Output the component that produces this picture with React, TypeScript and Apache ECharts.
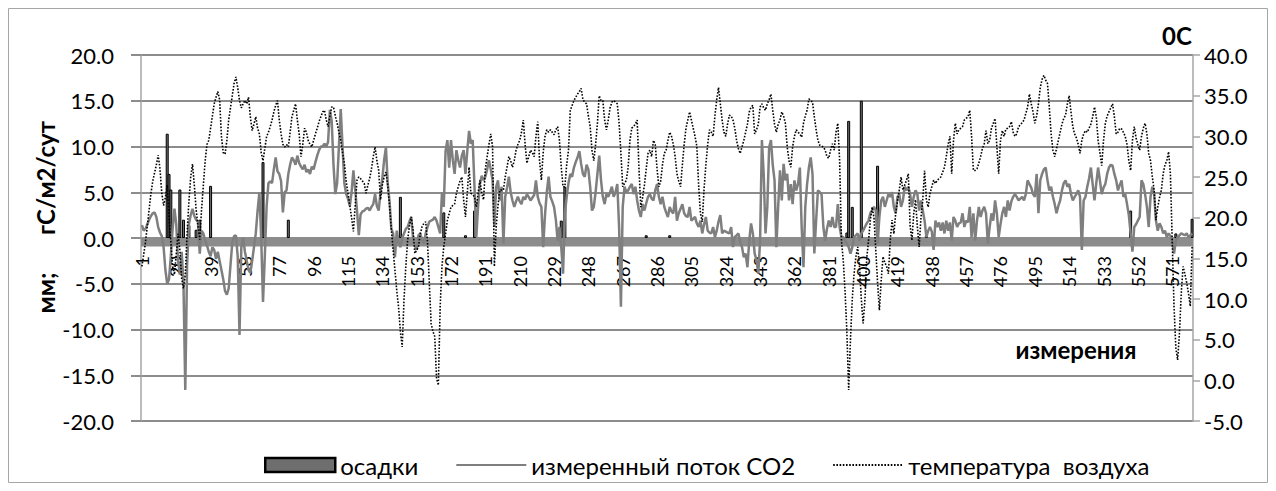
import React, { useEffect, useRef } from 'react';
import * as echarts from 'echarts';

// ---------- data ----------
const N = 582;
const categories: string[] = [];
for (let i = 1; i <= N; i++) categories.push(String(i));

// precipitation events: category number (1-based) and mm
const rainDay = [15, 16, 17, 22, 24, 27, 31, 33, 39, 68, 82, 144, 168, 180, 185, 233, 235, 280, 293, 391, 392, 394, 399, 408, 435, 548, 573, 582];
const rainMm = [11.4, 7.0, 5.3, 5.3, 2.0, 1.4, 0.9, 2.0, 5.7, 8.3, 2.0, 4.5, 2.8, 0.3, 3.0, 1.9, 5.6, 0.3, 0.3, 0.6, 12.8, 3.4, 15.0, 7.9, 0.3, 3.0, 0.5, 2.1];

// measured CO2 flux, gC/m2/day
const co2Flux = [
  1.4, 0.8, 1.0, 1.5, 2.0, 2.4, 2.7, 2.8, 2.3, 1.2,
  0.6, 0.2, -1.0, -3.5, -5.0, -4.5, -2.0, 1.0, 3.2, 1.5,
  -2.5, -4.0, -1.5, -5.0, -16.6, -3.0, 1.5, 2.5, 3.2, 2.4,
  2.0, 1.8, -1.7, 0.8, 0.5, -0.3, -0.8, -1.5, -2.0, -1.0,
  -1.3, -2.3, -1.5, -2.5, -3.5, -4.5, -5.8, -6.2, -5.5, -3.0,
  -0.5, 0.2, 0.3, -2.0, -10.6, -1.0, 0.0, -1.5, -2.5, -3.5,
  -3.8, -2.5, -1.0, 0.5, 3.0, 5.0, 0.0, -7.0, -2.0, 3.5,
  6.0, 6.2, 6.0, 7.5, 8.8, 7.3, 7.0, 6.2, 2.8, 5.0,
  5.2, 7.0, 8.0, 8.8, 8.5, 8.0, 9.0, 8.2, 7.8, 7.5,
  8.0, 7.2, 7.5, 7.0, 7.8, 7.5, 8.3, 9.0, 9.6, 10.0,
  10.0, 10.3, 10.0, 10.5, 14.0, 12.8, 8.0, 4.8, 6.0, 10.0,
  14.1, 10.0, 6.0, 4.8, 4.3, 3.5, 5.0, 7.4, 5.3, 3.0,
  0.3, 2.6, 2.9, 3.0, 3.2, 3.3, 3.0, 3.4, 3.7, 4.8,
  3.5, 3.0, 5.0, 6.5, 8.5, 9.9, 6.0, 4.0, 1.0, 0.5,
  -2.1, 0.8, -0.5, -1.0, 0.0, 0.5, 1.0, 1.2, 1.8, 2.3,
  0.0, -0.8, -1.3, 0.3, 0.5, -0.2, -0.6, 0.5, 1.2, 1.8,
  1.9, 2.0, 2.3, 1.9, 1.2, 0.5, 5.0, 3.4, 9.5, 10.7,
  7.7, 10.7, 8.5, 7.0, 9.6, 8.5, 7.7, 9.0, 9.6, 7.0,
  9.5, 11.7, 10.3, 10.7, 5.6, 0.1, 3.5, 5.9, 6.8, 6.3,
  6.7, 7.5, 8.5, 7.5, 6.3, 1.2, 5.6, 6.3, 4.1, 5.6,
  -0.6, 4.5, 5.5, 6.7, 5.0, 4.1, 3.4, 4.0, 4.5, 4.0,
  3.7, 4.5, 4.2, 4.8, 4.5, 4.1, 4.4, 4.7, 6.3, 4.5,
  3.8, 3.4, -1.0, 2.5, 5.0, 6.7, 4.5, 4.0, 3.4, 2.0,
  -0.3, 1.2, -1.0, -3.9, 2.7, 4.5, 6.0, 7.0, 6.7, 7.7,
  8.3, 8.8, 9.5, 8.1, 7.0, 6.7, 8.0, 7.5, 5.6, 3.0,
  3.4, 5.0, 7.0, 9.0, 6.3, 4.5, 3.7, 4.8, 4.5, 5.0,
  5.6, 4.5, 5.0, 5.9, 1.2, -7.5, 3.4, 5.6, 5.0, 5.2,
  5.6, 5.9, 4.8, 5.6, 4.1, 3.0, 2.3, 3.7, 3.0, 3.8,
  4.5, 4.8, 4.3, 4.1, 5.2, 5.9, 4.5, 3.7, 4.5, 3.4,
  2.8, 2.3, 3.4, 2.9, 2.7, 4.5, 1.9, 2.7, 3.2, 3.7,
  2.7, 2.4, 2.3, 3.4, 1.9, 2.1, 2.3, 1.6, 1.2, 1.9,
  0.5, 1.5, 2.3, 0.8, 0.6, 0.5, 1.2, 0.1, 0.8, 1.8,
  2.5, 0.5, 0.8, 0.7, 0.6, 0.5, 1.2, -1.0, 0.1, 0.3,
  0.5, -0.5, -1.0, -2.1, -1.7, -3.2, -0.3, 1.6, 0.5, -1.7,
  -2.4, -3.9, -0.3, 10.7, 7.0, 0.5, 3.4, 9.9, 10.7, 8.0,
  6.3, -1.0, 3.4, 7.4, 4.1, 8.1, 6.3, 7.0, 4.1, 5.9,
  3.7, 6.3, 5.2, 5.9, 7.7, 1.2, -3.2, 3.4, 5.9, 7.7,
  8.8, 7.0, -1.7, 1.9, 5.2, 5.0, 4.8, 1.2, -0.3, 1.0,
  1.9, 1.2, 2.3, 1.2, 1.2, 3.7, 1.2, 0.1, 0.1, -0.3,
  -0.6, -1.0, -1.7, -1.0, 0.1, 0.3, 0.5, -0.3, 0.5, 0.8,
  1.2, 1.6, 1.9, 2.7, 3.0, 3.4, 3.0, -0.6, 2.3, 4.1,
  4.5, 3.4, 4.1, 4.8, 4.5, 5.0, 3.4, 2.7, 4.5, 4.8,
  3.4, 4.1, 5.6, 5.2, 5.6, 4.8, 3.4, 4.5, 5.2, 4.8,
  3.0, 4.1, 3.0, 1.9, 0.1, 0.8, 1.2, 0.7, -1.3, 1.9,
  1.2, 1.7, 0.8, 1.7, 0.5, 1.9, 0.8, 1.7, -0.3, 2.3,
  1.9, 1.2, 1.6, 1.7, 2.7, 1.2, 1.9, 1.7, 3.4, 0.1,
  2.7, -0.3, 1.9, 3.4, 2.3, 3.0, 3.4, 2.7, -0.6, 1.2,
  2.7, 1.9, 4.1, 2.7, 0.1, 1.5, 2.7, 3.4, 2.3, 4.1,
  3.0, 4.0, 4.5, 4.8, 4.5, 4.1, 4.3, 4.5, 4.1, 4.8,
  6.3, 5.9, 5.5, 4.8, 4.5, 7.0, 2.7, 6.3, 7.0, 7.5,
  7.7, 6.3, 5.2, 5.6, 4.5, 3.7, 2.7, 3.5, 4.1, 5.2,
  6.0, 6.3, 5.6, 5.9, 4.8, 4.1, 4.5, 4.8, 5.2, 4.5,
  -1.3, 4.1, 4.5, 5.6, 6.5, 7.7, 5.9, 4.1, 6.0, 7.7,
  6.3, 4.8, 5.5, 5.9, 7.0, 7.7, 8.0, 7.9, 7.0, 6.3,
  5.2, 5.8, 6.3, 4.5, 4.8, 3.7, 2.5, 0.5, -1.5, 1.2,
  1.5, 1.9, 2.3, 6.3, 5.9, 4.8, 3.4, 1.2, 4.5, 5.6,
  4.8, 1.9, 0.8, 1.6, 1.2, 0.5, 0.8, 0.1, 0.5, 0.2,
  -0.3, -1.7, -0.3, 0.1, 0.3, 0.5, 0.4, 0.3, 0.5, 0.1,
  0.3, 0.5,
];

// air temperature, °C (right axis)
const airTemp = [
  14.0, 15.5, 17.0, 19.0, 21.0, 23.0, 24.5, 25.5, 26.5, 27.7,
  26.0, 23.0, 21.5, 22.5, 24.0, 20.0, 17.0, 14.0, 13.0, 15.5,
  18.0, 16.0, 12.5, 11.3, 13.0, 18.0, 22.0, 25.0, 26.6, 24.0,
  21.0, 19.0, 17.3, 21.0, 24.0, 27.0, 29.0, 29.5, 31.0, 32.5,
  34.0, 34.8, 35.5, 34.5, 30.0, 28.0, 27.8, 29.5, 32.0, 33.5,
  35.0, 36.5, 37.3, 36.0, 34.4, 33.5, 34.0, 34.4, 34.0, 34.8,
  32.4, 30.7, 31.5, 32.4, 31.0, 30.3, 28.0, 27.0, 28.5, 30.0,
  30.5, 31.2, 32.0, 33.0, 33.8, 34.4, 32.0, 30.3, 29.0, 28.7,
  29.0, 28.7, 30.5, 32.4, 33.2, 34.0, 32.0, 30.3, 27.5, 29.0,
  31.0, 30.5, 29.5, 29.0, 28.7, 29.5, 30.3, 31.0, 31.8, 32.4,
  33.0, 33.2, 32.0, 31.2, 32.5, 33.6, 33.6, 32.5, 31.6, 30.5,
  29.5, 28.0, 26.7, 24.5, 23.0, 21.5, 20.0, 18.3, 21.5, 24.6,
  25.0, 24.8, 24.5, 24.2, 23.0, 24.0, 24.8, 26.0, 27.5, 28.7,
  27.0, 25.8, 22.2, 24.0, 25.0, 25.6, 24.0, 21.5, 18.5, 16.0,
  13.5, 11.0, 9.0, 6.0, 4.1, 9.9, 14.0, 17.2, 19.0, 20.1,
  18.5, 15.6, 16.0, 16.4, 18.0, 18.9, 19.3, 19.5, 17.0, 12.0,
  7.0, 6.0, 5.4, 0.3, -0.6, 9.0, 14.0, 16.4, 18.0, 19.7,
  20.5, 21.3, 21.5, 21.7, 23.0, 23.8, 24.5, 25.0, 22.2, 20.1,
  23.0, 26.2, 23.0, 22.8, 22.6, 21.3, 23.0, 24.6, 23.0, 22.2,
  26.0, 27.5, 29.0, 30.3, 28.7, 14.0, 18.9, 21.5, 23.4, 23.4,
  23.4, 25.0, 26.2, 27.5, 27.0, 26.2, 27.0, 28.3, 29.0, 29.5,
  30.5, 32.0, 29.0, 26.7, 27.5, 28.3, 28.0, 27.5, 30.0, 31.8,
  27.0, 24.6, 28.0, 30.0, 30.8, 30.5, 30.8, 30.5, 30.2, 30.8,
  31.2, 29.5, 26.2, 23.8, 23.8, 26.5, 28.3, 33.2, 33.8, 34.4,
  34.8, 35.2, 35.5, 35.9, 34.5, 34.2, 34.0, 32.5, 31.2, 28.3,
  27.0, 29.0, 31.6, 35.0, 34.4, 34.4, 32.0, 30.8, 32.0, 33.5,
  34.2, 34.4, 34.2, 34.0, 31.6, 27.9, 23.8, 24.2, 24.6, 26.2,
  29.5, 31.0, 31.2, 31.5, 32.0, 26.0, 21.3, 22.5, 24.0, 26.0,
  27.9, 28.3, 27.5, 29.5, 29.0, 26.0, 23.8, 24.5, 26.5, 27.9,
  28.3, 29.5, 30.5, 30.0, 29.0, 27.5, 25.4, 24.5, 23.8, 26.5,
  29.0, 31.0, 32.0, 33.0, 32.0, 31.0, 30.0, 28.8, 24.0, 20.5,
  19.5, 23.5, 26.5, 29.0, 30.8, 30.5, 30.0, 32.5, 34.5, 36.0,
  34.0, 32.0, 30.5, 30.0, 31.5, 32.6, 32.5, 32.0, 31.0, 29.5,
  28.5, 27.9, 28.7, 29.5, 30.5, 31.5, 33.0, 33.6, 33.8, 30.3,
  30.8, 31.5, 33.6, 34.0, 33.5, 33.2, 34.0, 34.5, 35.2, 33.2,
  31.5, 30.5, 31.5, 32.0, 33.0, 32.5, 31.6, 28.7, 27.0, 26.2,
  28.7, 30.0, 30.8, 30.5, 30.3, 29.9, 31.6, 32.5, 33.2, 34.6,
  34.4, 34.2, 32.4, 30.8, 29.5, 28.9, 28.8, 28.7, 28.3, 27.5,
  27.3, 28.3, 29.1, 28.3, 30.5, 31.6, 27.0, 17.2, 14.8, 11.0,
  6.0, -1.2, 5.0, 10.0, 13.1, 15.2, 16.4, 14.0, 10.0, 7.0,
  9.9, 15.0, 17.2, 19.7, 21.3, 20.0, 16.0, 12.0, 8.6, 12.3,
  15.2, 14.5, 14.0, 13.1, 17.2, 19.7, 18.0, 20.5, 22.0, 23.4,
  25.0, 23.4, 24.0, 24.6, 25.4, 19.0, 17.2, 20.5, 22.2, 18.9,
  16.4, 20.0, 22.2, 25.8, 22.2, 21.3, 23.0, 23.8, 24.6, 24.2,
  24.6, 24.8, 25.0, 25.6, 26.2, 27.5, 29.0, 30.0, 25.4, 29.5,
  31.6, 30.3, 30.8, 31.0, 31.2, 32.0, 32.2, 32.4, 33.2, 30.0,
  25.8, 25.8, 26.0, 26.7, 27.5, 28.5, 29.1, 30.7, 29.1, 29.5,
  31.0, 31.6, 32.2, 28.7, 25.4, 29.5, 30.7, 30.0, 30.9, 31.0,
  31.2, 31.8, 30.5, 30.0, 30.3, 31.2, 31.4, 31.7, 32.0, 32.8,
  33.6, 35.2, 34.0, 33.0, 31.6, 32.5, 34.0, 36.0, 37.0, 37.5,
  36.9, 36.5, 33.6, 30.3, 28.3, 27.5, 28.5, 29.5, 30.5, 31.5,
  32.2, 32.6, 34.0, 35.0, 33.0, 31.2, 30.3, 29.8, 29.0, 27.9,
  29.5, 30.3, 30.7, 30.5, 31.0, 31.5, 32.4, 33.6, 32.4, 29.5,
  28.0, 26.4, 29.5, 31.6, 32.5, 33.0, 33.5, 34.0, 32.4, 30.3,
  30.5, 31.0, 30.9, 30.5, 30.0, 29.0, 27.0, 25.8, 29.5, 31.2,
  29.8, 29.0, 28.3, 30.0, 31.0, 31.6, 30.3, 27.9, 27.0, 25.0,
  23.4, 19.7, 21.3, 22.5, 23.4, 25.4, 26.5, 27.0, 28.1, 25.4,
  17.2, 9.1, 4.0, 2.5, 5.8, 10.7, 14.0, 13.1, 12.0, 10.7,
  9.1, 16.4,
];

const leftTicks = { min: -20, max: 20, step: 5 };
const rightTicks = { min: -5, max: 40, step: 5 };

const FONT = 'Lato, "Noto Sans", sans-serif';

export default function App() {
  const ref = useRef<HTMLDivElement>(null);

  useEffect(() => {
    if (!ref.current) return;
    const chart = echarts.init(ref.current, undefined, { renderer: 'svg' });

    const rainData: (number | null)[] = categories.map(() => null);
    rainDay.forEach((d, k) => { rainData[d - 1] = rainMm[k]; });

    const txt = { fontFamily: FONT, color: '#000' };
    const gridTop = 47;
    const gridBottom = 62;
    const plotH = 475 - gridTop - gridBottom;
    // place the category axis on the zero line of the left axis
    const zeroOffset = -plotH * (0 - leftTicks.min) / (leftTicks.max - leftTicks.min);

    chart.setOption({
      animation: false,
      textStyle: { fontFamily: FONT },
      grid: { left: 133, right: 75, top: gridTop, bottom: gridBottom, containLabel: false },
      xAxis: {
        type: 'category',
        data: categories,
        boundaryGap: true,
        position: 'bottom',
        offset: zeroOffset,
        axisLine: { show: false, onZero: false },
        axisTick: { show: false },
        axisLabel: { interval: 18, rotate: 90, fontSize: 18, margin: 18, ...txt },
        splitLine: { show: false },
      },
      yAxis: [
        {
          type: 'value', position: 'left',
          min: leftTicks.min, max: leftTicks.max, interval: leftTicks.step,
          axisLine: { show: true, lineStyle: { color: '#a6a6a6', width: 1.5 } },
          axisTick: { show: true, length: 10, lineStyle: { color: '#8c8c8c', width: 2 } },
          axisLabel: { formatter: (v: number) => v.toFixed(1), fontSize: 22, margin: 27, ...txt },
          splitLine: { show: true, lineStyle: { color: '#8c8c8c', width: 2 } },
        },
        {
          type: 'value', position: 'right',
          min: rightTicks.min, max: rightTicks.max, interval: rightTicks.step,
          axisLine: { show: true, lineStyle: { color: '#a6a6a6', width: 1.5 } },
          axisTick: { show: true, length: 7, lineStyle: { color: '#a6a6a6', width: 1.5 } },
          axisLabel: { formatter: (v: number) => v.toFixed(1), fontSize: 22, margin: 11, ...txt },
          splitLine: { show: false },
        },
      ],
      legend: {
        left: 251, top: 440, itemWidth: 70, itemHeight: 14, itemGap: 37,
        textStyle: { fontSize: 24, ...txt },
        data: [
          { name: 'осадки', icon: 'rect', itemStyle: { color: '#6e6e6e', borderColor: '#000', borderWidth: 2.5 } },
          { name: 'измеренный поток CO2', itemStyle: { opacity: 0 } },
          { name: 'температура  воздуха', itemStyle: { opacity: 0 } },
        ],
      },
      graphic: [
        { type: 'rect', silent: true, shape: { x: 0.5, y: 0.5, width: 1259, height: 474 }, style: { fill: 'none', stroke: '#a6a6a6', lineWidth: 1 } },
        { type: 'text', x: 37, y: 170, rotation: Math.PI / 2, style: { text: 'гС/м2/сут', font: `bold 24px ${FONT}`, fill: '#000', textAlign: 'center', textVerticalAlign: 'middle' } },
        { type: 'text', x: 37, y: 285, rotation: Math.PI / 2, style: { text: 'мм;', font: `bold 24px ${FONT}`, fill: '#000', textAlign: 'center', textVerticalAlign: 'middle' } },
        { type: 'text', x: 1169, y: 27, style: { text: '0C', font: `bold 24px ${FONT}`, fill: '#000', textAlign: 'center', textVerticalAlign: 'middle' } },
        { type: 'text', x: 1068, y: 341, style: { text: 'измерения', font: `bold 24px ${FONT}`, fill: '#000', textAlign: 'center', textVerticalAlign: 'middle' } },
      ],
      series: [
        {
          name: 'осадки', type: 'bar', yAxisIndex: 0, data: rainData,
          barWidth: 3, z: 1,
          itemStyle: { color: '#6e6e6e', borderColor: '#000', borderWidth: 1 },
          markArea: {
            silent: true,
            itemStyle: { color: '#8c8c8c', borderWidth: 0 },
            data: [[{ yAxis: 0 }, { yAxis: -0.93 }]],
          },
        },
        {
          name: 'измеренный поток CO2', type: 'line', yAxisIndex: 0, data: co2Flux,
          symbol: 'none', z: 3,
          lineStyle: { color: '#7f7f7f', width: 2.5 },
          itemStyle: { color: '#7f7f7f' },
        },
        {
          name: 'температура  воздуха', type: 'line', yAxisIndex: 1, data: airTemp,
          symbol: 'none', z: 4,
          lineStyle: { color: '#000', width: 1.6, type: [1.6, 1.6] },
          itemStyle: { color: '#000' },
        },
      ],
    });

    return () => chart.dispose();
  }, []);

  return <div ref={ref} style={{ width: 1260, height: 475 }} />;
}
